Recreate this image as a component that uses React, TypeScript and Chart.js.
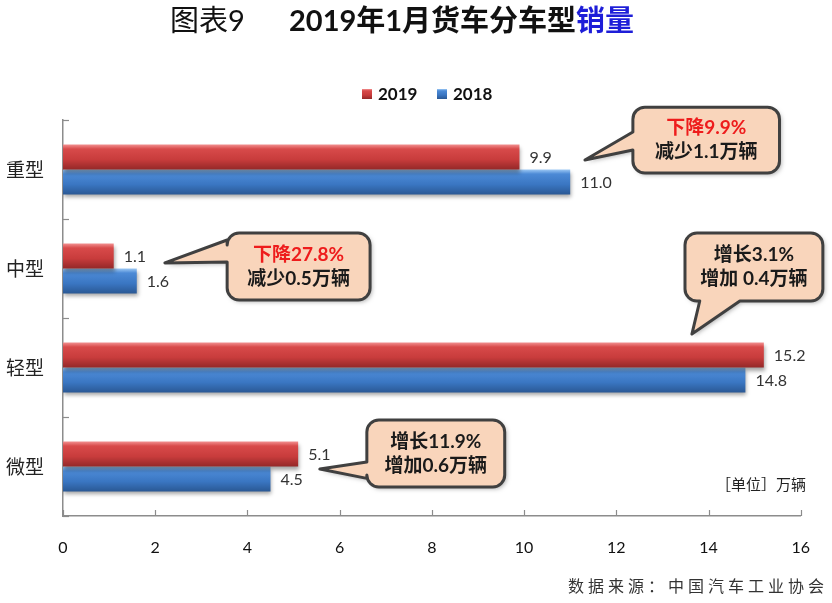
import React, { useEffect, useRef } from "react";
import { Chart, registerables } from "chart.js";

Chart.register(...registerables);

const categories = ["重型", "中型", "轻型", "微型"];
const series2019 = [9.9, 1.1, 15.2, 5.1];
const series2018 = [11.0, 1.6, 14.8, 4.5];
const seriesNames = ["2019", "2018"];
const xTicks = [0, 2, 4, 6, 8, 10, 12, 14, 16];

// Callouts anchored in data units: x = value, y = category index
const callouts = [
  { lines: [{ t: "下降9.9%", red: true }, { t: "减少1.1万辆", red: false }], x0: 12.36, x1: 15.54, y0: -0.63, y1: 0.035, side: "left", w0: -0.379, w1: -0.197, tipX: 11.32, tipY: -0.096 },
  { lines: [{ t: "下降27.8%", red: true }, { t: "减少0.5万辆", red: false }], x0: 3.56, x1: 6.66, y0: 0.641, y1: 1.318, side: "left", w0: 0.712, w1: 0.934, tipX: 2.21, tipY: 0.944 },
  { lines: [{ t: "增长3.1%", red: false }, { t: "增加 0.4万辆", red: false }], x0: 13.49, x1: 16.48, y0: 0.641, y1: 1.328, side: "bottom", w0: 13.81, w1: 14.68, tipX: 13.64, tipY: 1.662 },
  { lines: [{ t: "增长11.9%", red: false }, { t: "增加0.6万辆", red: false }], x0: 6.59, x1: 9.58, y0: 2.53, y1: 3.207, side: "left", w0: 2.955, w1: 3.12, tipX: 5.57, tipY: 3.025 },
];

const FONT = "Lato, 'Noto Sans CJK SC', sans-serif";
const CJK = "'Noto Sans CJK SC', sans-serif";

function makeGrad(chart: any, idx: number, top: boolean, colors: [number, string][]) {
  const area = chart.chartArea;
  const y = chart.scales.y;
  if (!area || !y) return colors[2][1];
  const c = y.getPixelForValue(idx);
  const step = (area.bottom - area.top) / categories.length;
  const th = step * 0.505 / 2;
  const y0 = top ? c - th : c;
  const y1 = top ? c : c + th;
  const g = chart.ctx.createLinearGradient(0, y0, 0, y1);
  colors.forEach(([o, col]) => g.addColorStop(o, col));
  return g;
}

const redStops: [number, string][] = [[0, "#F29090"], [0.18, "#D84A4A"], [0.6, "#C83C3C"], [1, "#942828"]];
const blueStops: [number, string][] = [[0, "#9CC8F4"], [0.18, "#4C8AD6"], [0.6, "#3A76C2"], [1, "#2A5894"]];

const decorPlugin = {
  id: "decor",
  beforeDatasetsDraw(chart: any) {
    const ctx = chart.ctx;
    ctx.save();
    ctx.shadowColor = "rgba(0,0,0,0.35)";
    ctx.shadowBlur = 4;
    ctx.shadowOffsetY = 3;
    ctx.shadowOffsetX = 1;
  },
  afterDatasetsDraw(chart: any) {
    const ctx = chart.ctx;
    ctx.restore();
    // data labels
    ctx.save();
    ctx.font = `16px ${FONT}`;
    ctx.fillStyle = "#333";
    ctx.textBaseline = "middle";
    ctx.textAlign = "left";
    chart.data.datasets.forEach((ds: any, di: number) => {
      const meta = chart.getDatasetMeta(di);
      meta.data.forEach((el: any, i: number) => {
        ctx.fillText(Number(ds.data[i]).toFixed(1), el.x + 10, el.y + 1);
      });
    });
    ctx.restore();
  },
  afterDraw(chart: any) {
    const ctx = chart.ctx;
    const xs = chart.scales.x;
    const ys = chart.scales.y;
    const area = chart.chartArea;
    ctx.save();
    // inside tick marks
    ctx.strokeStyle = "#8c8c8c";
    ctx.lineWidth = 1.2;
    xTicks.forEach((v) => {
      const px = Math.round(xs.getPixelForValue(v)) + 0.5;
      ctx.beginPath();
      ctx.moveTo(px, area.bottom);
      ctx.lineTo(px, area.bottom - 6);
      ctx.stroke();
    });
    const step = (area.bottom - area.top) / categories.length;
    for (let i = 0; i <= categories.length; i++) {
      const py = Math.round(area.top + step * i) + 0.5;
      ctx.beginPath();
      ctx.moveTo(area.left, py);
      ctx.lineTo(area.left + 6, py);
      ctx.stroke();
    }

    // title
    ctx.textBaseline = "alphabetic";
    ctx.textAlign = "left";
    ctx.fillStyle = "#111";
    ctx.font = `29px ${FONT}`;
    ctx.fillText("图表9", 170, 31);
    ctx.font = `bold 29px ${FONT}`;
    const part1 = "2019年1月货车分车型";
    ctx.fillText(part1, 289, 31);
    const w1 = ctx.measureText(part1).width;
    ctx.fillStyle = "#1E1ED8";
    ctx.fillText("销量", 289 + w1, 31);

    // legend
    ctx.font = `bold 17px ${FONT}`;
    ctx.textBaseline = "middle";
    const legendItems = [
      { x: 362, name: seriesNames[0], stops: redStops },
      { x: 437, name: seriesNames[1], stops: blueStops },
    ];
    legendItems.forEach((it) => {
      const g = ctx.createLinearGradient(0, 89, 0, 99);
      it.stops.forEach(([o, c]) => g.addColorStop(o, c));
      ctx.fillStyle = g;
      ctx.fillRect(it.x, 89, 10, 10);
      ctx.fillStyle = "#111";
      ctx.fillText(it.name, it.x + 16, 95);
    });

    // callouts
    callouts.forEach((c) => {
      const bx0 = xs.getPixelForValue(c.x0);
      const bx1 = xs.getPixelForValue(c.x1);
      const by0 = ys.getPixelForValue(c.y0);
      const by1 = ys.getPixelForValue(c.y1);
      const tx = xs.getPixelForValue(c.tipX);
      const ty = ys.getPixelForValue(c.tipY);
      const r = 12;
      ctx.beginPath();
      ctx.moveTo(bx0 + r, by0);
      ctx.lineTo(bx1 - r, by0);
      ctx.arcTo(bx1, by0, bx1, by0 + r, r);
      ctx.lineTo(bx1, by1 - r);
      ctx.arcTo(bx1, by1, bx1 - r, by1, r);
      if (c.side === "bottom") {
        const wx1 = xs.getPixelForValue(c.w1);
        const wx0 = xs.getPixelForValue(c.w0);
        ctx.lineTo(wx1, by1);
        ctx.lineTo(tx, ty);
        ctx.lineTo(wx0, by1);
      }
      ctx.lineTo(bx0 + r, by1);
      ctx.arcTo(bx0, by1, bx0, by1 - r, r);
      if (c.side === "left") {
        const wy0 = ys.getPixelForValue(c.w0);
        const wy1 = ys.getPixelForValue(c.w1);
        ctx.lineTo(bx0, wy1);
        ctx.lineTo(tx, ty);
        ctx.lineTo(bx0, wy0);
      }
      ctx.lineTo(bx0, by0 + r);
      ctx.arcTo(bx0, by0, bx0 + r, by0, r);
      ctx.closePath();
      ctx.save();
      ctx.shadowColor = "rgba(0,0,0,0.3)";
      ctx.shadowBlur = 4;
      ctx.shadowOffsetX = 2;
      ctx.shadowOffsetY = 2;
      ctx.fillStyle = "#F9D5BB";
      ctx.fill();
      ctx.restore();
      ctx.strokeStyle = "#404040";
      ctx.lineWidth = 3;
      ctx.lineJoin = "round";
      ctx.stroke();

      const cx = (bx0 + bx1) / 2;
      const cy = (by0 + by1) / 2;
      ctx.font = `bold 19px ${FONT}`;
      ctx.textAlign = "center";
      ctx.textBaseline = "middle";
      c.lines.forEach((ln, i) => {
        ctx.fillStyle = ln.red ? "#EE1C1C" : "#1a1a1a";
        ctx.fillText(ln.t, cx, cy + (i === 0 ? -12 : 12));
      });
    });

    // unit
    ctx.font = `15px ${CJK}`;
    ctx.fillStyle = "#222";
    ctx.textAlign = "right";
    ctx.textBaseline = "middle";
    ctx.fillText("［单位］万辆", 806, 484);

    // source
    ctx.font = `16px ${CJK}`;
    ctx.fillStyle = "#333";
    ctx.textAlign = "left";
    (ctx as any).letterSpacing = "4px";
    ctx.fillText("数据来源：中国汽车工业协会", 568, 586);
    (ctx as any).letterSpacing = "0px";
    ctx.restore();
  },
};

export default function App() {
  const ref = useRef<HTMLCanvasElement | null>(null);
  useEffect(() => {
    document.body.style.margin = "0";
    const canvas = ref.current!;
    const chart = new Chart(canvas, {
      type: "bar",
      data: {
        labels: categories,
        datasets: [
          {
            label: seriesNames[0],
            data: series2019,
            backgroundColor: (ctx: any) => makeGrad(ctx.chart, ctx.dataIndex, true, redStops),
            borderWidth: 0,
            categoryPercentage: 0.505,
            barPercentage: 1,
          },
          {
            label: seriesNames[1],
            data: series2018,
            backgroundColor: (ctx: any) => makeGrad(ctx.chart, ctx.dataIndex, false, blueStops),
            borderWidth: 0,
            categoryPercentage: 0.505,
            barPercentage: 1,
          },
        ],
      },
      options: {
        indexAxis: "y",
        responsive: false,
        animation: false,
        layout: { padding: { top: 120, right: 31, left: 0, bottom: 0 } },
        plugins: {
          legend: { display: false },
          tooltip: { enabled: false },
          title: { display: false },
        },
        scales: {
          x: {
            min: 0,
            max: 16,
            ticks: {
              stepSize: 2,
              font: { family: FONT, size: 16 },
              color: "#111",
              padding: 22,
            },
            grid: { display: false, drawTicks: false },
            border: { display: true, color: "#8c8c8c", width: 1.5 },
            afterFit: (s: any) => {
              s.height = 87;
            },
          },
          y: {
            type: "category",
            offset: true,
            ticks: {
              font: { family: CJK, size: 19 },
              color: "#222",
              padding: 19,
            },
            grid: { display: false, drawTicks: false, offset: true },
            border: { display: true, color: "#8c8c8c", width: 1.5 },
            afterFit: (s: any) => {
              s.width = 63;
            },
          },
        },
      } as any,
      plugins: [decorPlugin],
    });
    return () => chart.destroy();
  }, []);
  return <canvas ref={ref} width={832} height={603} style={{ display: "block" }} />;
}
